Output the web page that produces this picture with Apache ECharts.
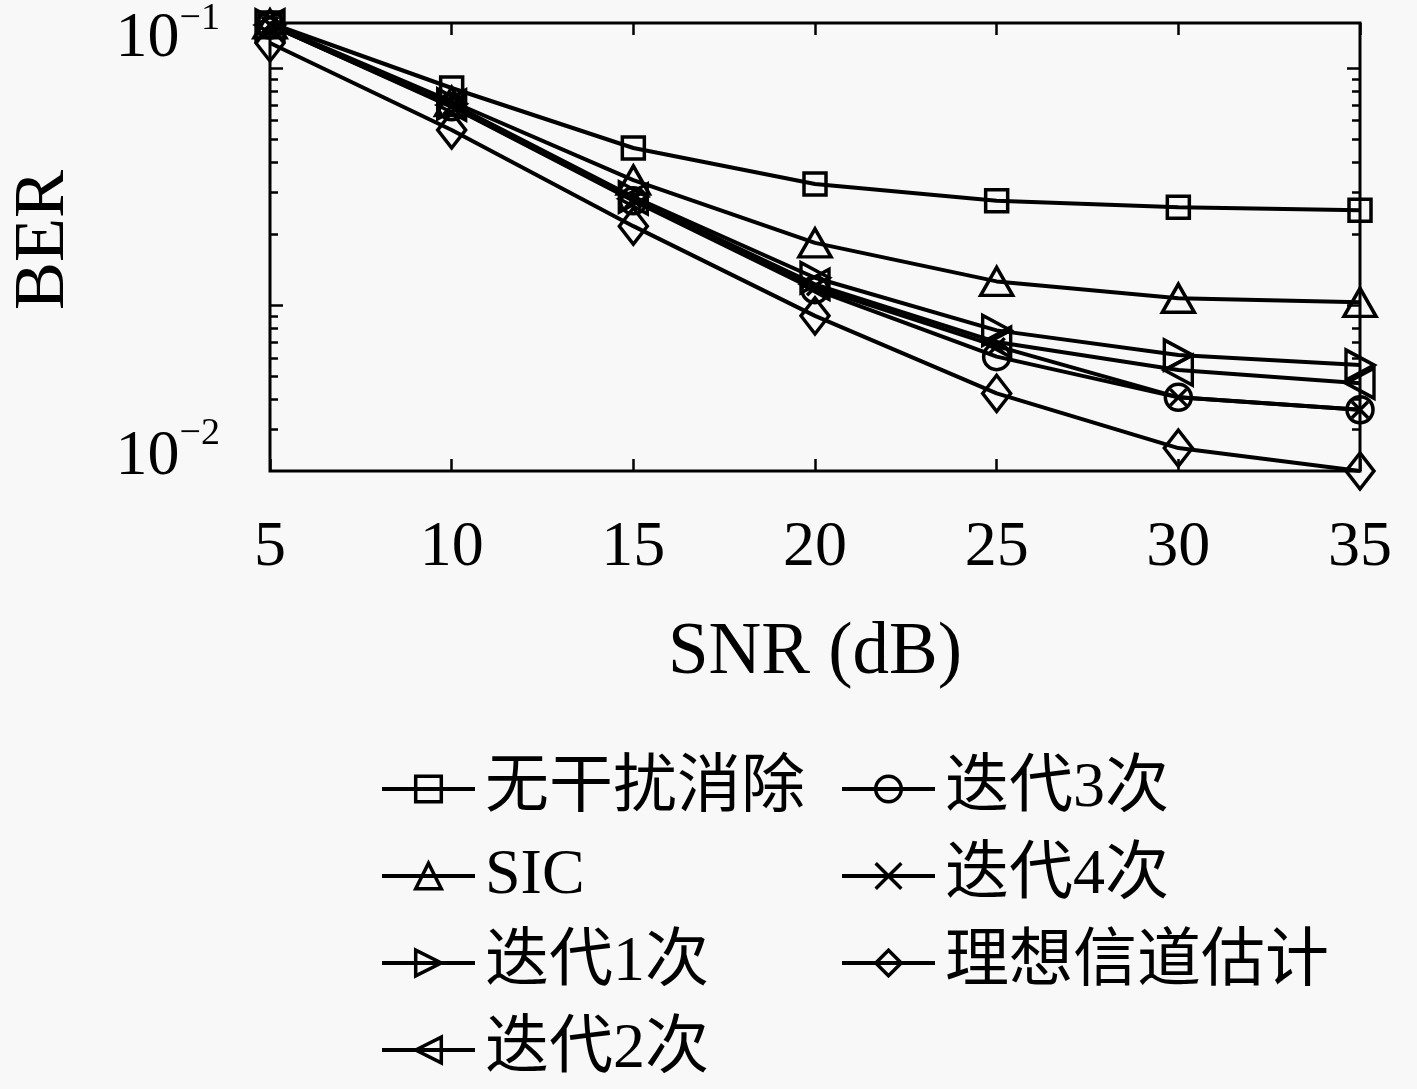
<!DOCTYPE html>
<html>
<head>
<meta charset="utf-8">
<script src="https://cdn.jsdelivr.net/npm/echarts@6/dist/echarts.min.js"></script>
<style>
html,body{margin:0;padding:0;background:#f8f8f8;}
#c{width:1417px;height:1089px;}
</style>
</head>
<body>
<div id="c"></div>
<script>
// ---- data ----
const snr = [5, 10, 15, 20, 25, 30, 35];
const berNoCancel = [0.100, 0.0716, 0.0526, 0.0437, 0.0401, 0.0388, 0.0382];
const berSIC      = [0.0995, 0.0668, 0.0446, 0.0323, 0.0265, 0.0243, 0.0238];
const berIter1    = [0.0990, 0.0660, 0.0409, 0.0270, 0.0206, 0.01815, 0.01724];
const berIter2    = [0.0990, 0.0656, 0.0405, 0.0261, 0.0194, 0.0168, 0.0157];
const berIter3    = [0.0990, 0.0650, 0.0401, 0.0254, 0.0180, 0.0146, 0.0137];
const berIter4    = [0.0990, 0.0652, 0.0403, 0.0257, 0.0190, 0.0146, 0.0137];
const berIdeal    = [0.0902, 0.0577, 0.0352, 0.0222, 0.0149, 0.01125, 0.0100];
const seriesNames = ['无干扰消除', 'SIC', '迭代1次', '迭代2次', '迭代3次', '迭代4次', '理想信道估计'];
const legendCol1 = ['无干扰消除', 'SIC', '迭代1次', '迭代2次'];
const legendCol2 = ['迭代3次', '迭代4次', '理想信道估计'];
const xTicks = [5, 10, 15, 20, 25, 30, 35];
// decorative tick scale drawn on the frame sides
const sideMajorTicks = [1, 10];
const sideMinorTicks = [0.3, 0.4, 0.5, 0.6, 0.7, 0.8, 0.9, 2, 3, 4, 5, 6, 7, 8, 9];

const FONT = '"Liberation Serif", "Noto Sans CJK SC", serif';
const chart = echarts.init(document.getElementById('c'));

function pairs(ys) { return snr.map((x, i) => [x, ys[i]]); }

const symbolDefs = [
  { symbol: 'rect', size: 22, rotate: 0 },
  { symbol: 'triangle', size: [32, 28], rotate: 0 },
  { symbol: 'triangle', size: [30, 28], rotate: -90 },
  { symbol: 'triangle', size: [30, 28], rotate: 90 },
  { symbol: 'circle', size: 26, rotate: 0 },
  { symbol: 'path://M0,0L10,10M10,0L0,10', size: 16, rotate: 0 },
  { symbol: 'diamond', size: [28, 36], rotate: 0 }
];
const allData = [berNoCancel, berSIC, berIter1, berIter2, berIter3, berIter4, berIdeal];

const series = allData.map((d, i) => ({
  name: seriesNames[i],
  type: 'line',
  xAxisIndex: 0,
  yAxisIndex: 0,
  data: pairs(d),
  clip: false,
  symbol: symbolDefs[i].symbol,
  symbolSize: symbolDefs[i].size,
  symbolRotate: symbolDefs[i].rotate,
  showAllSymbol: true,
  lineStyle: { color: '#000', width: 4 },
  itemStyle: { color: 'rgba(0,0,0,0)', borderColor: '#000', borderWidth: 3.5 },
  emphasis: { disabled: true },
  animation: false,
  z: 3
}));

function sideAxis(pos, ticks, len) {
  return {
    type: 'log', logBase: 10, position: pos,
    min: 0.2, max: 15.5,
    axisLine: { show: false },
    axisLabel: { show: false },
    splitLine: { show: false },
    axisTick: { show: true, inside: true, length: len, customValues: ticks,
      lineStyle: { color: '#000', width: 2.5 } }
  };
}

const legendBase = {
  orient: 'vertical',
  itemWidth: 93,
  itemHeight: 32,
  itemGap: 23,
  padding: 0,
  selectedMode: false,
  lineStyle: { width: 4, color: '#000' },
  itemStyle: { borderWidth: 3.5, borderColor: '#000', color: 'rgba(0,0,0,0)' },
  textStyle: { fontFamily: FONT, fontSize: 64, lineHeight: 64, color: '#000', padding: [0, 0, 0, 5] }
};

const option = {
  backgroundColor: '#f8f8f8',
  animation: false,
  grid: {
    left: 270, right: 57, top: 23, bottom: 618,
    show: true, borderColor: '#000', borderWidth: 3,
    backgroundColor: 'rgba(0,0,0,0)',
    containLabel: false,
    outerBoundsMode: 'none'
  },
  legend: [
    Object.assign({}, legendBase, { data: legendCol1, left: 380, top: 757 }),
    Object.assign({}, legendBase, { data: legendCol2, left: 840, top: 757 })
  ],
  xAxis: [
    {
      type: 'value', min: 5, max: 35, interval: 5, position: 'bottom',
      name: 'SNR (dB)', nameLocation: 'middle', nameGap: 146,
      nameTextStyle: { fontFamily: FONT, fontSize: 73, color: '#000' },
      axisLine: { show: false },
      splitLine: { show: false },
      axisTick: { show: true, inside: true, length: 12, lineStyle: { color: '#000', width: 2.5 } },
      axisLabel: { fontFamily: FONT, fontSize: 64, lineHeight: 64, color: '#000', margin: 45,
        customValues: xTicks, formatter: v => String(v) }
    },
    {
      type: 'value', min: 5, max: 35, interval: 5, position: 'top',
      axisLine: { show: false },
      splitLine: { show: false },
      axisLabel: { show: false },
      axisTick: { show: true, inside: true, length: 12, lineStyle: { color: '#000', width: 2.5 } }
    }
  ],
  yAxis: [
    {
      type: 'log', logBase: 10, min: 0.01, max: 0.1, position: 'left',
      name: 'BER', nameLocation: 'middle', nameGap: 190, nameRotate: 90,
      nameTextStyle: { fontFamily: FONT, fontSize: 72, color: '#000', padding: [0, 0, 0, 14] },
      axisLine: { show: false },
      splitLine: { show: false },
      axisTick: { show: false },
      axisLabel: {
        margin: 50,
        formatter: function (v) {
          const e = Math.round(Math.log10(v));
          const top = e === -1;
          return (top ? '{mt|10}{st|' : '{mb|10}{sb|') + '\u2212' + Math.abs(e) + '}';
        },
        rich: {
          mt: { fontFamily: FONT, fontSize: 64, lineHeight: 64, color: '#000', verticalAlign: 'top', padding: [16, 0, 0, 0] },
          st: { fontFamily: FONT, fontSize: 38, lineHeight: 38, color: '#000', verticalAlign: 'top', padding: [9, 0, 0, 0] },
          mb: { fontFamily: FONT, fontSize: 64, lineHeight: 64, color: '#000', verticalAlign: 'bottom', padding: [0, 0, 14, 0] },
          sb: { fontFamily: FONT, fontSize: 38, lineHeight: 38, color: '#000', verticalAlign: 'bottom', padding: [0, 0, 50, 0] }
        }
      }
    },
    sideAxis('left', sideMajorTicks, 13),
    sideAxis('left', sideMinorTicks, 8),
    sideAxis('right', sideMajorTicks, 13),
    sideAxis('right', sideMinorTicks, 8)
  ],
  series: series
};
chart.setOption(option);
</script>
</body>
</html>
